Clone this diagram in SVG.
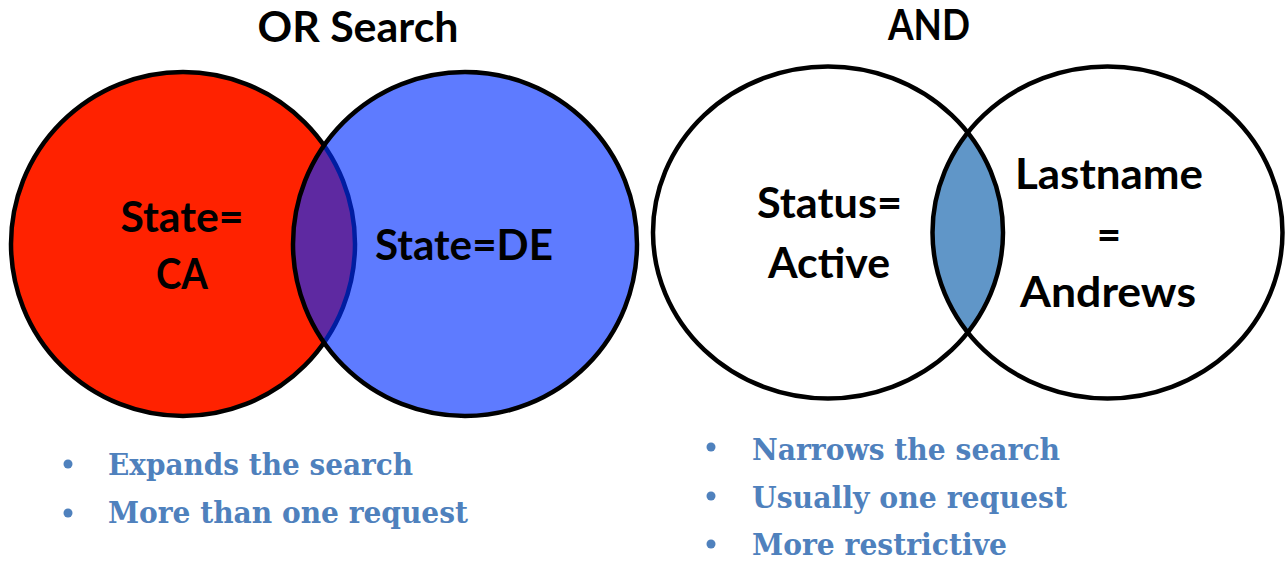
<svg xmlns="http://www.w3.org/2000/svg" width="1286" height="562" viewBox="0 0 1286 562">
  <style>
    .title { font-family: Lato, "Liberation Sans", sans-serif; font-weight: bold; font-size: 42px; fill: #000; text-anchor: middle; }
    .lbl { font-family: Lato, "Liberation Sans", sans-serif; font-weight: bold; font-size: 42px; fill: #000; text-anchor: middle; }
    .item { font-family: "DejaVu Serif", "Liberation Serif", serif; font-weight: bold; font-size: 30px; fill: #4F81BD; }
    .dot { fill: #4F81BD; }
    .ring { stroke: #000; stroke-width: 4.5; }
  </style>
  <rect width="1286" height="562" fill="#fff"/>

  <g id="or-title">
    <text class="title" x="358" y="42" textLength="201" lengthAdjust="spacingAndGlyphs">OR Search</text>
  </g>

  <g id="ca-circle">
    <circle class="ring" cx="183" cy="244" r="172" fill="#FF2200"/>
  </g>
  <g id="de-circle">
    <circle cx="465" cy="244" r="172" fill="rgb(0,46,255)" fill-opacity="0.63"/>
    <circle cx="465" cy="244" r="172" fill="none" stroke="#000" stroke-width="4.5"/>
  </g>
  <g id="or-labels">
    <text class="lbl" x="182" y="232" textLength="123" lengthAdjust="spacingAndGlyphs">State=</text>
    <text class="lbl" x="182" y="289" textLength="52" lengthAdjust="spacingAndGlyphs">CA</text>
    <text class="lbl" x="464" y="260" textLength="178" lengthAdjust="spacingAndGlyphs">State=DE</text>
  </g>

  <g id="and-title">
    <text class="title" x="929" y="40" textLength="82" lengthAdjust="spacingAndGlyphs">AND</text>
  </g>

  <g id="and-intersection">
    <path d="M 967.75 132.6 A 175 166 0 0 1 967.75 332.4 A 175 166 0 0 1 967.75 132.6 Z" fill="#6096C8"/>
  </g>
  <g id="status-circle">
    <ellipse class="ring" cx="828" cy="232.5" rx="175" ry="166" fill="none"/>
    <text class="lbl" x="829.5" y="218" textLength="145" lengthAdjust="spacingAndGlyphs">Status=</text>
    <text class="lbl" x="829" y="278" textLength="122" lengthAdjust="spacingAndGlyphs">Active</text>
  </g>
  <g id="lastname-circle">
    <ellipse class="ring" cx="1107.5" cy="232.5" rx="175" ry="166" fill="none"/>
    <text class="lbl" x="1109" y="189" textLength="188" lengthAdjust="spacingAndGlyphs">Lastname</text>
    <text class="lbl" x="1109" y="250">=</text>
    <text class="lbl" x="1108" y="307" textLength="176" lengthAdjust="spacingAndGlyphs">Andrews</text>
  </g>

  <g id="or-list">
    <circle class="dot" cx="68" cy="464" r="4.5"/>
    <text class="item" x="108" y="475" textLength="305" lengthAdjust="spacingAndGlyphs">Expands the search</text>
    <circle class="dot" cx="68" cy="513" r="4.5"/>
    <text class="item" x="108" y="523" textLength="360" lengthAdjust="spacingAndGlyphs">More than one request</text>
  </g>
  <g id="and-list">
    <circle class="dot" cx="711" cy="447" r="4.5"/>
    <text class="item" x="752" y="460" textLength="308" lengthAdjust="spacingAndGlyphs">Narrows the search</text>
    <circle class="dot" cx="711" cy="496" r="4.5"/>
    <text class="item" x="752" y="508" textLength="315" lengthAdjust="spacingAndGlyphs">Usually one request</text>
    <circle class="dot" cx="711" cy="544" r="4.5"/>
    <text class="item" x="752" y="555" textLength="255" lengthAdjust="spacingAndGlyphs">More restrictive</text>
  </g>
</svg>
